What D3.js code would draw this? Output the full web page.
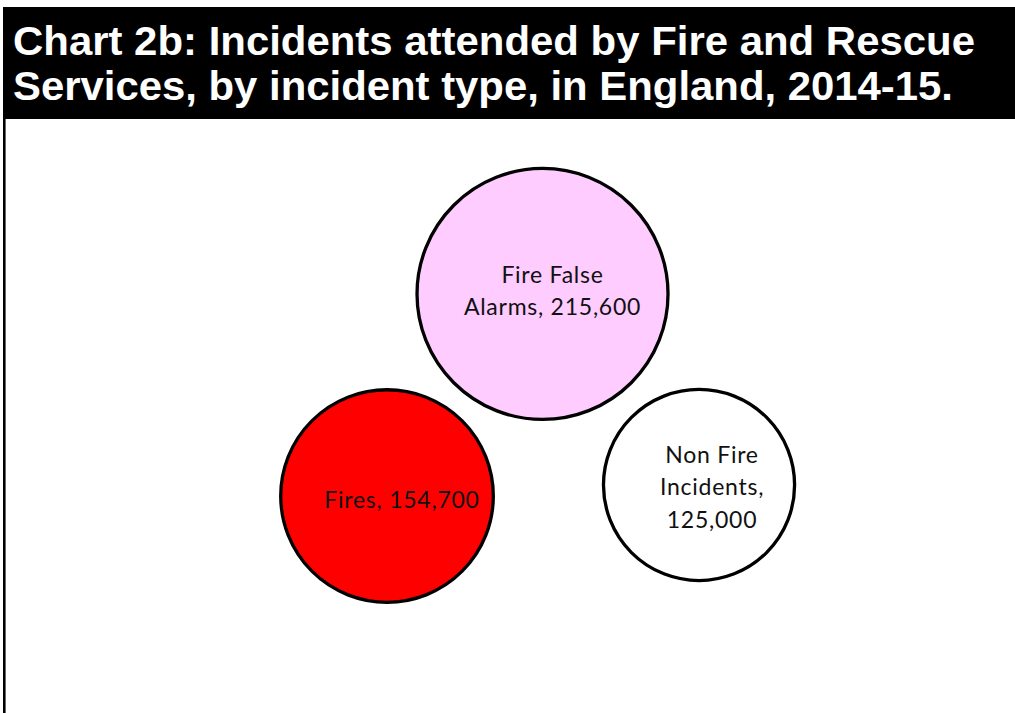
<!DOCTYPE html>
<html>
<head>
<meta charset="utf-8">
<script src="https://cdn.jsdelivr.net/npm/d3@7/dist/d3.min.js"></script>
<style>
  html, body { margin: 0; padding: 0; background: #fff; }
  svg { display: block; }
</style>
</head>
<body>
<svg id="chart" width="1015" height="713"></svg>
<script>
// ---- data ----
const titleLines = [
  "Chart 2b: Incidents attended by Fire and Rescue",
  "Services, by incident type, in England, 2014-15."
];
const categories = ["Fire False Alarms", "Fires", "Non Fire Incidents"];
const values = [215600, 154700, 125000];
const labelLines = [
  ["Fire False", "Alarms, 215,600"],
  ["Fires, 154,700"],
  ["Non Fire", "Incidents,", "125,000"]
];

// ---- layout / style ----
const W = 1015, H = 713;
const colors = ["#FFCCFF", "#FF0000", "#FFFFFF"];
// bubble positions on a hidden 0..100 grid
const posX = [53.45, 38.13, 68.87];
const posY = [58.77, 30.43, 31.98];
const labelDx = [10, 15, 13];
const labelFirstBaseline = [-11, 12, -22]; // relative to circle centre

const svg = d3.select("#chart");

// title band
svg.append("rect").attr("x", 3).attr("y", 7).attr("width", W - 3).attr("height", 112).attr("fill", "#000");
const titleWidths = [962, 940];
titleLines.forEach((t, i) => {
  svg.append("text")
    .attr("x", 13).attr("y", 55 + i * 45)
    .attr("fill", "#fff")
    .attr("font-family", "'Liberation Sans', Arial, sans-serif")
    .attr("font-weight", "bold")
    .attr("font-size", 40)
    .attr("textLength", titleWidths[i])
    .attr("lengthAdjust", "spacingAndGlyphs")
    .text(t);
});

// left frame line
svg.append("line").attr("x1", 4.3).attr("x2", 4.3).attr("y1", 119).attr("y2", H)
  .attr("stroke", "#000").attr("stroke-width", 2.6);

// scales
const x = d3.scaleLinear().domain([0, 100]).range([0, W]);
const y = d3.scaleLinear().domain([0, 100]).range([H, 0]);
const r = d3.scaleSqrt().domain([0, d3.max(values)]).range([0, 125.5]);

const cx = i => x(posX[i]);
const cy = i => y(posY[i]);

const g = svg.append("g");
const idx = d3.range(categories.length);

g.selectAll("circle").data(idx).join("circle")
  .attr("cx", i => cx(i))
  .attr("cy", i => cy(i))
  .attr("r", i => r(values[i]))
  .attr("fill", i => colors[i])
  .attr("stroke", "#000")
  .attr("stroke-width", 3.3);

idx.forEach(i => {
  const t = g.append("text")
    .attr("text-anchor", "middle")
    .attr("font-family", "Lato, 'Open Sans', sans-serif")
    .attr("font-size", 23)
    .attr("letter-spacing", 0.75)
    .attr("fill", "#111");
  labelLines[i].forEach((ln, j) => {
    t.append("tspan")
      .attr("x", cx(i) + labelDx[i])
      .attr("y", cy(i) + labelFirstBaseline[i] + j * 32.5)
      .text(ln);
  });
});
</script>
</body>
</html>
